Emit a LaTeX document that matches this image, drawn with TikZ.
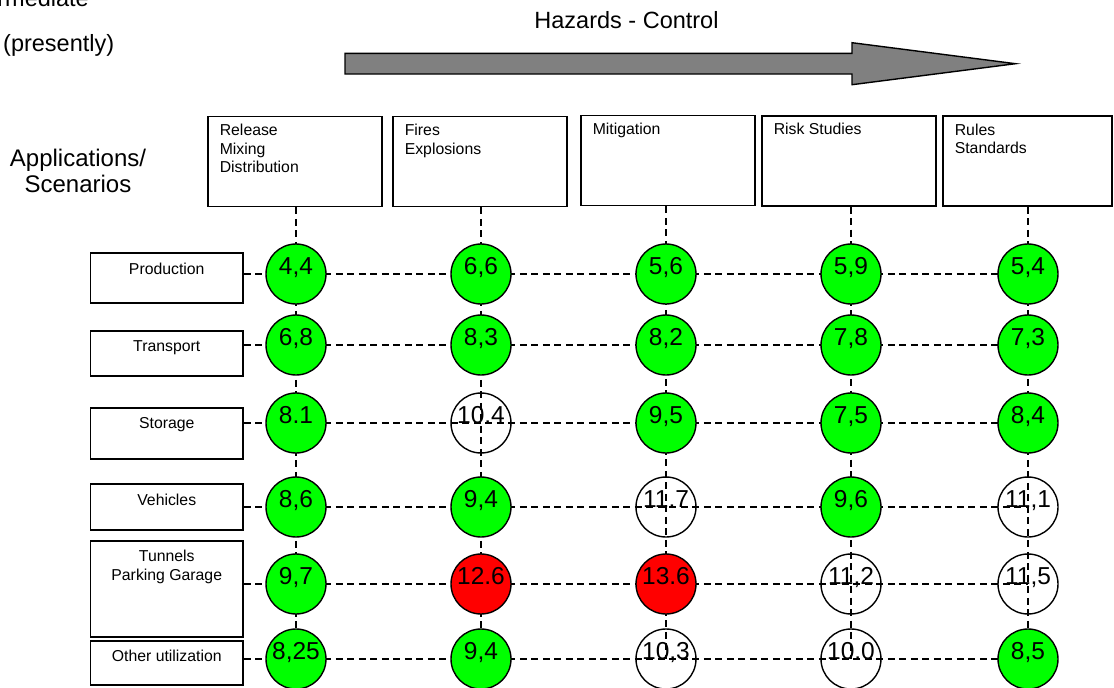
\documentclass[tikz,border=0pt]{standalone}
\usepackage{fontspec}
\setmainfont{Liberation Sans}
\usetikzlibrary{positioning,calc}

\begin{document}
\begin{tikzpicture}[x=1pt,y=-1pt,
		catbox/.style={draw=black, line width=1.8pt, minimum width=174pt, minimum height=90pt, inner sep=0pt},
		catlab/.style={anchor=north west, inner sep=0pt, align=left, xshift=12.5pt, yshift=-8.5pt, font=\fontsize{15.8}{18.4}\selectfont},
		appbox/.style={draw=black, line width=1.8pt, minimum width=152.5pt, inner sep=0pt},
		applab/.style={anchor=north, inner sep=0pt, align=center, yshift=-10.5pt, font=\fontsize{15.8}{18.3}\selectfont},
		dashline/.style={line width=1.6pt, dash pattern=on 7pt off 4.5pt},
		basept/.style={circle, draw=black, line width=1.4pt, minimum size=60pt, inner sep=0pt},
		greenpt/.style={basept, fill=green},
		redpt/.style={basept, fill=red},
		whitept/.style={basept},
		num/.style={inner sep=0pt, yshift=8pt, text height=17.5pt, text depth=0pt, font=\fontsize{24.5}{26}\selectfont}]
	\useasboundingbox (0,0) rectangle (1114,688);

	% titles
	\node (tint) at (89,6) [anchor=base east, inner sep=0pt, font=\fontsize{23.5}{26}\selectfont] {Intermediate};
	\node (tpres) at (3,51) [anchor=base west, inner sep=0pt, font=\fontsize{23.5}{26}\selectfont] {(presently)};
	\node (tapp) at (78,149) [anchor=north, inner sep=0pt, align=center, font=\fontsize{24}{26}\selectfont] {Applications/\\Scenarios};
	\node (thaz) at (626.5,28.3) [anchor=base, inner sep=0pt, font=\fontsize{23.5}{24}\selectfont] {Hazards - Control};
	\draw [fill=gray, line width=1.4pt] (345,53.3) -- (852,53.3) -- (852,42.7) -- (1015.5,63.7) -- (852,84.7) -- (852,74) -- (345,74) -- cycle;

	% categories
	\node (h1) at (295,161.5) [catbox] {};
	\node (h2) at (480,161.5) [catbox] {};
	\node (h3) at (668,160.5) [catbox] {};
	\node (h4) at (849,160.7) [catbox] {};
	\node (h5) at (1027.5,161) [catbox, minimum width=169pt] {};
	\node (t1) at (h1.north west) [catlab] {Release\\Mixing\\Distribution};
	\node (t2) at (h2.north west) [catlab] {Fires\\Explosions};
	\node (t3) at (h3.north west) [catlab] {Mitigation};
	\node (t4) at (h4.north west) [catlab] {Risk Studies};
	\node (t5) at (h5.north west) [catlab] {Rules\\Standards};

	% applications
	\node (a1) at (166.75,277.8) [appbox, minimum height=49.7pt] {};
	\node (a2) at (166.75,353.3) [appbox, minimum height=45.3pt] {};
	\node (a3) at (166.75,433.5) [appbox, minimum height=51pt] {};
	\node (a4) at (166.75,507) [appbox, minimum height=46pt] {};
	\node (a5) at (166.75,589) [appbox, minimum height=96.6pt] {};
	\node (a6) at (166.75,662.8) [appbox, minimum height=44.3pt] {};
	\node (l1) at (a1.north) [applab] {Production};
	\node (l2) at (a2.north) [applab] {Transport};
	\node (l3) at (a3.north) [applab] {Storage};
	\node (l4) at (a4.north) [applab] {Vehicles};
	\node (l5) at (a5.north) [applab] {Tunnels\\Parking Garage};
	\node (l6) at (a6.north) [applab] {Other utilization};

	% grid points
	\coordinate (c11) at (296,274); \coordinate (c15) at (1028,274);
	\coordinate (c21) at (296,345); \coordinate (c25) at (1028,345);
	\coordinate (c31) at (296,423); \coordinate (c35) at (1028,423);
	\coordinate (c41) at (296,507); \coordinate (c45) at (1028,507);
	\coordinate (c51) at (296,584); \coordinate (c55) at (1028,584);
	\coordinate (c61) at (296,659); \coordinate (c62) at (481,659); \coordinate (c63) at (666,659); \coordinate (c64) at (851,659); \coordinate (c65) at (1028,659);

	\draw [dashline] (c11 -| a1.east) -- (c15);
	\draw [dashline] (c21 -| a2.east) -- (c25);
	\draw [dashline] (c31 -| a3.east) -- (c35);
	\draw [dashline] (c41 -| a4.east) -- (c45);
	\draw [dashline] (c51 -| a5.east) -- (c55);
	\draw [dashline] (c61 -| a6.east) -- (c65);
	\draw [dashline] (c61 |- h1.south) -- (c61);
	\draw [dashline] (c62 |- h2.south) -- (c62);
	\draw [dashline] (c63 |- h3.south) -- (c63);
	\draw [dashline] (c64 |- h4.south) -- (c64);
	\draw [dashline] (c65 |- h5.south) -- (c65);

	\node (p11) at (c11) [greenpt, label={[num]center:4,4}] {};
	\node (p12) at (481,274) [greenpt, label={[num]center:6,6}] {};
	\node (p13) at (666,274) [greenpt, label={[num]center:5,6}] {};
	\node (p14) at (851,274) [greenpt, label={[num]center:5,9}] {};
	\node (p15) at (c15) [greenpt, label={[num]center:5,4}] {};

	\node (p21) at (c21) [greenpt, label={[num]center:6,8}] {};
	\node (p22) at (481,345) [greenpt, label={[num]center:8,3}] {};
	\node (p23) at (666,345) [greenpt, label={[num]center:8,2}] {};
	\node (p24) at (851,345) [greenpt, label={[num]center:7,8}] {};
	\node (p25) at (c25) [greenpt, label={[num]center:7,3}] {};

	\node (p31) at (c31) [greenpt, label={[num]center:8.1}] {};
	\node (p32) at (481,423) [whitept, label={[num]center:10.4}] {};
	\node (p33) at (666,423) [greenpt, label={[num]center:9,5}] {};
	\node (p34) at (851,423) [greenpt, label={[num]center:7,5}] {};
	\node (p35) at (c35) [greenpt, label={[num]center:8,4}] {};

	\node (p41) at (c41) [greenpt, label={[num]center:8,6}] {};
	\node (p42) at (481,507) [greenpt, label={[num]center:9,4}] {};
	\node (p43) at (666,507) [whitept, label={[num]center:11.7}] {};
	\node (p44) at (851,507) [greenpt, label={[num]center:9,6}] {};
	\node (p45) at (c45) [whitept, label={[num]center:11,1}] {};

	\node (p51) at (c51) [greenpt, label={[num]center:9,7}] {};
	\node (p52) at (481,584) [redpt, label={[num]center:12.6}] {};
	\node (p53) at (666,584) [redpt, label={[num]center:13.6}] {};
	\node (p54) at (851,584) [whitept, label={[num]center:11,2}] {};
	\node (p55) at (c55) [whitept, label={[num]center:11,5}] {};

	\node (p61) at (c61) [greenpt, label={[num]center:8,25}] {};
	\node (p62) at (c62) [greenpt, label={[num]center:9,4}] {};
	\node (p63) at (c63) [whitept, label={[num]center:10,3}] {};
	\node (p64) at (c64) [whitept, label={[num]center:10.0}] {};
	\node (p65) at (c65) [greenpt, label={[num]center:8,5}] {};
\end{tikzpicture}
\end{document}
